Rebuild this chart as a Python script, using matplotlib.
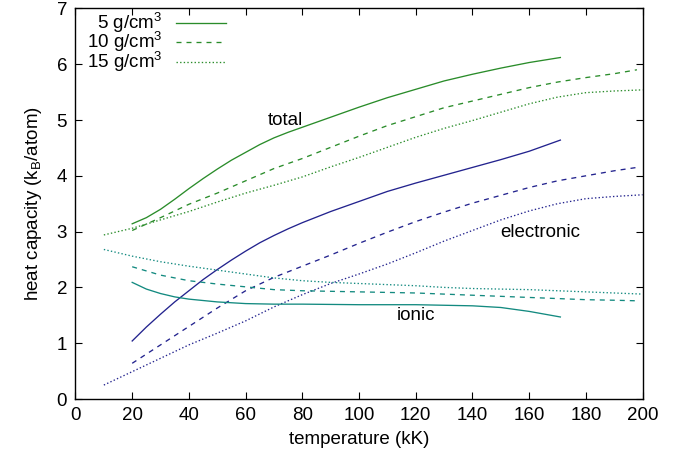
import matplotlib
matplotlib.use('Agg')
import matplotlib.pyplot as plt

# density labels
dens_labels = ['5 g/cm$^3$', '10 g/cm$^3$', '15 g/cm$^3$']

# total heat capacity
tot5_T = [20, 25, 30, 35, 40, 45, 50, 55, 60, 65, 70, 75, 80, 90, 100, 110, 120, 130, 140, 150, 160, 171]
tot5_C = [3.14, 3.25, 3.40, 3.58, 3.77, 3.95, 4.12, 4.28, 4.42, 4.56, 4.68, 4.78, 4.87, 5.05, 5.23, 5.40, 5.55, 5.70, 5.82, 5.93, 6.03, 6.12]
tot10_T = [20, 30, 40, 50, 60, 70, 80, 90, 100, 110, 120, 130, 140, 150, 160, 170, 180, 190, 198]
tot10_C = [3.02, 3.25, 3.49, 3.69, 3.91, 4.13, 4.31, 4.51, 4.71, 4.90, 5.06, 5.22, 5.34, 5.46, 5.58, 5.68, 5.76, 5.83, 5.90]
tot15_T = [10, 20, 30, 40, 50, 60, 70, 80, 90, 100, 110, 120, 130, 140, 150, 160, 170, 180, 190, 200]
tot15_C = [2.94, 3.06, 3.21, 3.36, 3.53, 3.69, 3.83, 3.98, 4.16, 4.33, 4.51, 4.69, 4.85, 4.99, 5.14, 5.29, 5.41, 5.49, 5.52, 5.54]

# electronic part
ele5_T = [20, 25, 30, 35, 40, 45, 50, 55, 60, 65, 70, 75, 80, 90, 100, 110, 120, 130, 140, 150, 160, 171]
ele5_C = [1.04, 1.29, 1.52, 1.74, 1.94, 2.14, 2.32, 2.49, 2.65, 2.80, 2.93, 3.05, 3.16, 3.36, 3.54, 3.72, 3.87, 4.01, 4.15, 4.29, 4.44, 4.64]
ele10_T = [20, 30, 40, 50, 60, 70, 80, 90, 100, 110, 120, 130, 140, 150, 160, 170, 180, 190, 198]
ele10_C = [0.64, 0.97, 1.30, 1.63, 1.94, 2.18, 2.38, 2.58, 2.79, 2.99, 3.18, 3.35, 3.51, 3.65, 3.79, 3.91, 4.00, 4.09, 4.15]
ele15_T = [10, 20, 30, 40, 50, 60, 70, 80, 90, 100, 110, 120, 130, 140, 150, 160, 170, 180, 190, 200]
ele15_C = [0.25, 0.49, 0.73, 0.97, 1.18, 1.40, 1.65, 1.87, 2.07, 2.24, 2.42, 2.62, 2.83, 3.02, 3.21, 3.37, 3.50, 3.59, 3.63, 3.66]

# ionic part
ion5_T = [20, 25, 30, 35, 40, 50, 60, 70, 80, 100, 120, 130, 140, 150, 160, 171]
ion5_C = [2.09, 1.97, 1.89, 1.83, 1.79, 1.74, 1.71, 1.70, 1.70, 1.69, 1.69, 1.68, 1.67, 1.64, 1.57, 1.47]
ion10_T = [20, 30, 40, 50, 60, 70, 80, 90, 100, 110, 120, 130, 140, 150, 160, 170, 180, 190, 198]
ion10_C = [2.37, 2.22, 2.12, 2.06, 2.01, 1.96, 1.94, 1.93, 1.92, 1.91, 1.90, 1.88, 1.86, 1.84, 1.82, 1.80, 1.78, 1.77, 1.76]
ion15_T = [10, 20, 30, 40, 50, 60, 70, 80, 90, 100, 110, 120, 130, 140, 150, 160, 170, 180, 190, 200]
ion15_C = [2.68, 2.56, 2.46, 2.38, 2.31, 2.24, 2.17, 2.12, 2.09, 2.07, 2.05, 2.03, 2.00, 1.98, 1.97, 1.96, 1.94, 1.92, 1.90, 1.88]

plt.rcParams['font.family'] = ['Liberation Sans', 'DejaVu Sans']
plt.rcParams['mathtext.fontset'] = 'custom'
plt.rcParams['mathtext.rm'] = 'Liberation Sans'
plt.rcParams['mathtext.it'] = 'Liberation Sans:italic'
plt.rcParams['lines.scale_dashes'] = False

green = '#2a8c2a'
blue = '#23238e'
teal = '#138a80'
lw = 0.95
fs = 13.5
styles = [dict(linestyle='-'),
          dict(linestyle=(0, (3.6, 3.6))),
          dict(linestyle=(0, (1.0, 1.6)))]

fig = plt.figure(figsize=(6.8, 4.59), dpi=100)
ax = fig.add_axes([0.111, 0.1307, 0.834, 0.851])

groups = [
    (green, [(tot5_T, tot5_C), (tot10_T, tot10_C), (tot15_T, tot15_C)]),
    (blue, [(ele5_T, ele5_C), (ele10_T, ele10_C), (ele15_T, ele15_C)]),
    (teal, [(ion5_T, ion5_C), (ion10_T, ion10_C), (ion15_T, ion15_C)]),
]
for col, curves in groups:
    for (t, c), st in zip(curves, styles):
        ax.plot(t, c, color=col, lw=lw, **st)

# gnuplot-style key: right aligned text, then sample line
for i, (lab, st) in enumerate(zip(dens_labels, styles)):
    yk = 0.962 - i * 0.049
    ax.text(0.153, yk, lab, transform=ax.transAxes, ha='right', va='center', fontsize=fs)
    ax.plot([0.177, 0.266], [yk, yk], transform=ax.transAxes, color=green, lw=lw, **st)

ax.text(74, 5.0, 'total', ha='center', va='center', fontsize=fs)
ax.text(164, 2.99, 'electronic', ha='center', va='center', fontsize=fs)
ax.text(120, 1.50, 'ionic', ha='center', va='center', fontsize=fs)

ax.set_xlim(0, 200)
ax.set_ylim(0, 7)
ax.set_xticks(range(0, 201, 20))
ax.set_yticks(range(0, 8))
ax.tick_params(direction='in', top=True, right=True, length=5, width=0.8,
               labelsize=fs, pad=6)
for s in ax.spines.values():
    s.set_linewidth(1.0)
ax.set_xlabel('temperature (kK)', fontsize=fs, labelpad=5)
ax.set_ylabel('heat capacity (k$_\\mathrm{B}$/atom)', fontsize=fs, labelpad=9)

fig.savefig('out.png', dpi=100)
